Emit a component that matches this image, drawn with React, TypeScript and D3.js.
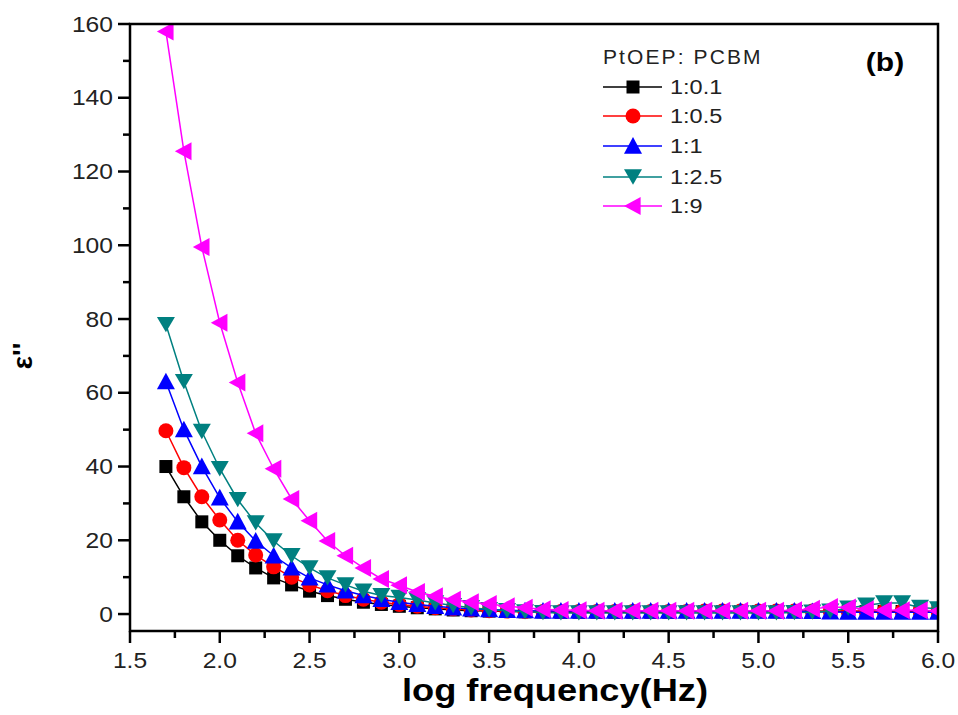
import React from "react";
import * as d3 from "d3";

const xValues = [1.7,1.8,1.9,2.0,2.1,2.2,2.3,2.4,2.5,2.6,2.7,2.8,2.9,3.0,3.1,3.2,3.3,3.4,3.5,3.6,3.7,3.8,3.9,4.0,4.1,4.2,4.3,4.4,4.5,4.6,4.7,4.8,4.9,5.0,5.1,5.2,5.3,5.4,5.5,5.6,5.7,5.8,5.9,6.0];

const s01 = [40,31.8,25,20,15.8,12.5,9.8,7.9,6.2,5.0,4.0,3.2,2.6,2.1,1.7,1.4,1.1,0.9,0.8,0.7,0.6,0.6,0.5,0.5,0.5,0.5,0.5,0.5,0.5,0.6,0.6,0.6,0.6,0.6,0.6,0.6,0.6,0.6,0.7,0.7,0.7,0.7,0.7,0.7];
const s05 = [49.7,39.7,31.8,25.5,20,16,12.8,10,7.9,6.3,5.0,4.0,3.2,2.6,2.1,1.7,1.4,1.1,0.9,0.8,0.7,0.7,0.7,0.7,0.7,0.7,0.7,0.7,0.7,0.7,0.8,0.8,0.8,0.8,0.8,0.8,0.8,0.8,0.8,0.8,0.8,0.8,0.8,0.8];
const s1 = [63,50,40,31.5,25,19.8,15.8,12.5,9.8,7.9,6.3,5.0,4.0,3.2,2.6,2.1,1.7,1.4,1.2,1.0,0.9,0.8,0.8,0.8,0.8,0.8,0.8,0.8,0.8,0.8,0.8,0.8,0.8,0.8,0.8,0.8,0.7,0.6,0.5,0.5,0.5,0.5,0.5,0.5];
const s25 = [78.5,63,49.5,39.4,31,24.7,19.8,15.8,12.5,9.8,7.9,6.2,5.0,4.5,3.8,3.0,2.3,1.7,1.2,0.9,0.6,0.4,0.3,0.3,0.3,0.3,0.3,0.3,0.3,0.3,0.3,0.3,0.3,0.3,0.3,0.4,0.5,0.8,1.6,2.4,3.0,3.0,1.8,1.4];
const s9 = [158,125.5,99.5,79,62.8,49,39.4,31.2,25.3,19.8,15.8,12.5,9.5,7.8,6.0,4.8,3.9,3.2,2.7,2.1,1.7,1.3,1.1,1.0,0.9,0.9,0.9,0.9,0.9,0.9,0.9,0.9,0.9,0.9,0.9,1.0,1.4,1.9,1.8,1.3,1.0,1.0,1.0,0.8];

const seriesNames = ["1:0.1","1:0.5","1:1","1:2.5","1:9"];
const seriesColors = ["#000000","#ff0000","#0000ff","#008080","#ff00ff"];
const seriesShapes = ["square","circle","up","down","left"];
const seriesData = [s01, s05, s1, s25, s9];

const xTicks = [1.5,2.0,2.5,3.0,3.5,4.0,4.5,5.0,5.5,6.0];
const yTicks = [0,20,40,60,80,100,120,140,160];

const W = 958, H = 715;
const L = 130, R = 938, T = 24, B = 631;

function Marker({ shape, x, y, color }: { shape: string; x: number; y: number; color: string }) {
  if (shape === "square") return <rect x={x - 6.5} y={y - 6.5} width={13} height={13} fill={color} />;
  if (shape === "circle") return <circle cx={x} cy={y} r={7.5} fill={color} />;
  const s = 9;
  let pts = "";
  if (shape === "up") pts = `${x},${y - s} ${x + s},${y + s * 0.85} ${x - s},${y + s * 0.85}`;
  if (shape === "down") pts = `${x},${y + s * 0.85} ${x + s},${y - s * 0.85} ${x - s},${y - s * 0.85}`;
  if (shape === "left") pts = `${x - s},${y} ${x + s * 0.85},${y - s} ${x + s * 0.85},${y + s}`;
  return <polygon points={pts} fill={color} />;
}

function SText({ x, y, sx = 1.12, children, ...rest }: any) {
  return (
    <text transform={`translate(${x},${y}) scale(${sx},1)`} {...rest}>
      {children}
    </text>
  );
}

export default function App() {
  const x = d3.scaleLinear().domain([1.5, 6.0]).range([L, R]);
  const y = d3.scaleLinear().domain([-4.6, 160]).range([B, T]);
  const line = d3.line<number>().x((_, i) => x(xValues[i])).y((d) => y(d));
  const xMinor = d3.range(1.75, 6.0, 0.5);
  const yMinor = d3.range(10, 160, 20);
  const font = "'Liberation Sans', Arial, sans-serif";
  const legY = [87, 116, 146, 177, 206];

  return (
    <svg width={W} height={H} style={{ position: "absolute", left: 0, top: 0, background: "#fff" }} fontFamily={font}>
      <defs>
        <clipPath id="plot">
          <rect x={L} y={T} width={R - L} height={B - T} />
        </clipPath>
      </defs>
      <g clipPath="url(#plot)">
        {seriesData.map((d, si) => (
          <g key={si}>
            <path d={line(d) || ""} fill="none" stroke={seriesColors[si]} strokeWidth={1.5} />
            {d.map((v, i) => (
              <Marker key={i} shape={seriesShapes[si]} x={x(xValues[i])} y={y(v)} color={seriesColors[si]} />
            ))}
          </g>
        ))}
      </g>
      {/* frame */}
      <rect x={L} y={T} width={R - L} height={B - T} fill="none" stroke="#000" strokeWidth={2.5} />
      {/* x ticks */}
      {xTicks.map((t) => (
        <g key={"xt" + t}>
          <line x1={x(t)} x2={x(t)} y1={B} y2={B + 12} stroke="#000" strokeWidth={2.5} />
          <SText x={x(t)} y={668} textAnchor="middle" fontSize={22} fill="#222">{t.toFixed(1)}</SText>
        </g>
      ))}
      {xMinor.map((t) => (
        <line key={"xm" + t} x1={x(t)} x2={x(t)} y1={B} y2={B + 7} stroke="#000" strokeWidth={2.5} />
      ))}
      {/* y ticks */}
      {yTicks.map((t) => (
        <g key={"yt" + t}>
          <line x1={L - 12} x2={L} y1={y(t)} y2={y(t)} stroke="#000" strokeWidth={2.5} />
          <SText x={113} y={y(t)} textAnchor="end" dominantBaseline="central" fontSize={22} fill="#222">{t}</SText>
        </g>
      ))}
      {yMinor.map((t) => (
        <line key={"ym" + t} x1={L - 7} x2={L} y1={y(t)} y2={y(t)} stroke="#000" strokeWidth={2.5} />
      ))}
      {/* axis titles */}
      <SText x={555} y={701} sx={1.17} textAnchor="middle" fontSize={31} fontWeight="bold" fill="#000">log frequency(Hz)</SText>
      <text transform="translate(32,356) rotate(-90)" textAnchor="middle" fontSize={28} fontWeight="bold" fill="#000">ε''</text>
      <SText x={885} y={71} sx={1.2} textAnchor="middle" fontSize={25} fontWeight="bold" fill="#000">(b)</SText>
      {/* legend */}
      <SText x={603} y={64} sx={1.05} fontSize={20} letterSpacing={2} fill="#222">PtOEP: PCBM</SText>
      {seriesNames.map((n, i) => (
        <g key={n}>
          <line x1={603} x2={662} y1={legY[i]} y2={legY[i]} stroke={seriesColors[i]} strokeWidth={1.5} />
          <Marker shape={seriesShapes[i]} x={633} y={legY[i]} color={seriesColors[i]} />
          <SText x={670} y={legY[i]} dominantBaseline="central" fontSize={21} fill="#222">{n}</SText>
        </g>
      ))}
    </svg>
  );
}
